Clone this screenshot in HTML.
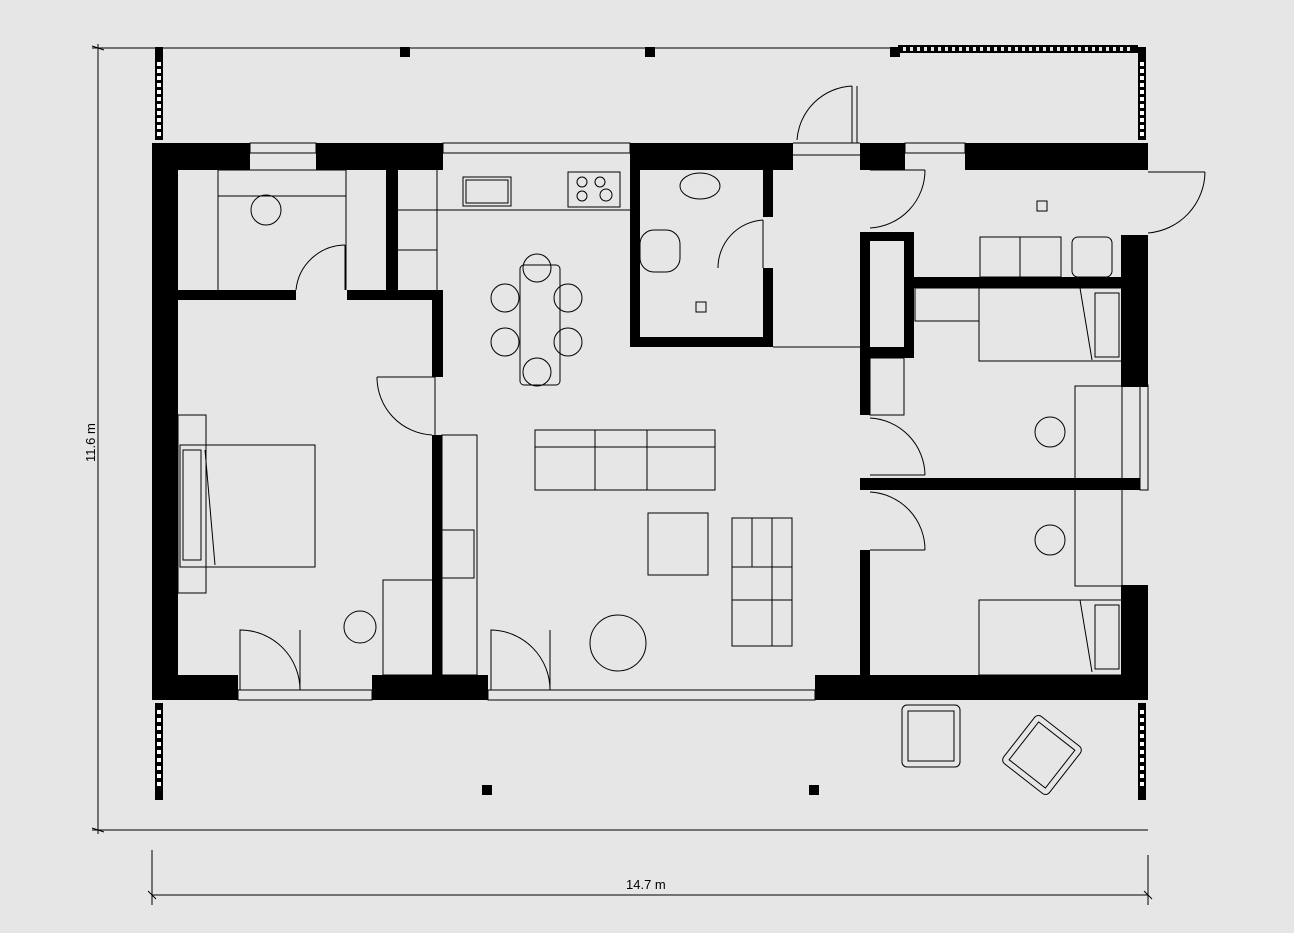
<!DOCTYPE html>
<html><head><meta charset="utf-8"><style>
html,body{margin:0;padding:0;background:#e6e6e6;}
svg{display:block;}
text{font-family:"Liberation Sans",sans-serif;font-size:13px;fill:#000;}
</style></head><body>
<svg width="1294" height="933" viewBox="0 0 1294 933" xmlns="http://www.w3.org/2000/svg">
<rect width="1294" height="933" fill="#e6e6e6"/>
<g stroke="#000" stroke-width="1" fill="none">
<!-- dimension lines -->
<line x1="92" y1="48" x2="1146" y2="48"/>
<line x1="98" y1="44" x2="98" y2="834"/>
<line x1="92" y1="830" x2="1148" y2="830"/>
<line x1="92" y1="46" x2="104" y2="50"/>
<line x1="92" y1="828" x2="104" y2="832"/>
<line x1="152" y1="895" x2="1148" y2="895"/>
<line x1="152" y1="850" x2="152" y2="905"/>
<line x1="1148" y1="855" x2="1148" y2="905"/>
<line x1="148" y1="891" x2="156" y2="899"/>
<line x1="1144" y1="891" x2="1152" y2="899"/>
<!-- window lines -->
<rect x="250" y="143" width="66" height="10"/>
<rect x="443" y="143" width="187" height="10"/>
<rect x="905" y="143" width="60" height="10"/>
<rect x="238" y="690" width="134" height="10"/>
<rect x="488" y="690" width="327" height="10"/>
<rect x="1140" y="385" width="8" height="105"/>
<line x1="793" y1="143" x2="860" y2="143"/><line x1="793" y1="155" x2="860" y2="155"/>
<!-- left rooms -->
<rect x="218" y="170" width="128" height="26"/>
<line x1="218" y1="196" x2="218" y2="290"/><line x1="346" y1="170" x2="346" y2="290"/>
<line x1="398" y1="210" x2="437" y2="210"/><line x1="398" y1="250" x2="437" y2="250"/><line x1="437" y1="170" x2="437" y2="290"/>
<line x1="398" y1="210" x2="630" y2="210"/>
<rect x="463" y="177" width="48" height="29"/><rect x="466" y="180" width="42" height="23"/>
<rect x="568" y="172" width="52" height="35"/>
<circle cx="582" cy="182" r="5"/><circle cx="600" cy="182" r="5"/><circle cx="582" cy="196" r="5"/><circle cx="606" cy="195" r="6"/>
<path d="M296 290 A50 50 0 0 1 345 245"/><line x1="345" y1="245" x2="345" y2="290"/>
<circle cx="266" cy="210" r="15"/>
<!-- master bedroom -->
<rect x="178" y="415" width="28" height="178"/>
<rect x="180" y="445" width="135" height="122"/>
<rect x="183" y="450" width="18" height="110"/>
<line x1="205" y1="450" x2="215" y2="565"/>
<rect x="383" y="580" width="50" height="95"/>
<circle cx="360" cy="627" r="16"/>
<path d="M240 690 L240 630 A60 60 0 0 1 300 690"/><line x1="300" y1="630" x2="300" y2="690"/>
<path d="M377 377 A58 58 0 0 0 432 435"/><line x1="377" y1="377" x2="435" y2="377"/>
<!-- kitchen/living -->
<rect x="442" y="435" width="35" height="240"/>
<rect x="442" y="530" width="32" height="48"/>
<line x1="435" y1="377" x2="435" y2="435"/>
<rect x="520" y="265" width="40" height="120" rx="4"/>
<circle cx="505" cy="298" r="14"/><circle cx="505" cy="342" r="14"/><circle cx="568" cy="298" r="14"/><circle cx="568" cy="342" r="14"/>
<circle cx="537" cy="268" r="14"/><circle cx="537" cy="372" r="14"/>
<rect x="535" y="430" width="180" height="60"/>
<line x1="595" y1="430" x2="595" y2="490"/><line x1="647" y1="430" x2="647" y2="490"/><line x1="535" y1="447" x2="715" y2="447"/>
<rect x="648" y="513" width="60" height="62"/>
<rect x="732" y="518" width="60" height="128"/>
<line x1="732" y1="567" x2="792" y2="567"/><line x1="732" y1="600" x2="792" y2="600"/><line x1="772" y1="518" x2="772" y2="646"/><line x1="752" y1="518" x2="752" y2="567"/>
<circle cx="618" cy="643" r="28"/>
<path d="M491 690 L491 630 A60 60 0 0 1 550 690"/><line x1="550" y1="630" x2="550" y2="690"/>
<path d="M797 140 A58 58 0 0 1 852 86"/><line x1="852" y1="86" x2="852" y2="143"/><line x1="857" y1="86" x2="857" y2="143"/>
<!-- bathroom -->
<ellipse cx="700" cy="186" rx="20" ry="13"/>
<rect x="640" y="230" width="40" height="42" rx="14"/>
<path d="M718 268 A48 48 0 0 1 763 220"/><line x1="763" y1="220" x2="763" y2="268"/>
<rect x="696" y="302" width="10" height="10"/>
<line x1="773" y1="347" x2="860" y2="347"/>
<!-- right rooms -->
<path d="M870 228 A58 58 0 0 0 925 170"/><line x1="870" y1="170" x2="925" y2="170"/>
<rect x="1037" y="201" width="10" height="10"/>
<rect x="980" y="237" width="81" height="40"/><line x1="1020" y1="237" x2="1020" y2="277"/>
<rect x="1072" y="237" width="40" height="40" rx="6"/>
<path d="M1148 233 A62 62 0 0 0 1205 172"/><line x1="1148" y1="172" x2="1205" y2="172"/>
<rect x="915" y="288" width="64" height="33"/>
<rect x="979" y="288" width="143" height="73"/>
<rect x="1095" y="293" width="24" height="64"/>
<line x1="1080" y1="288" x2="1092" y2="360"/>
<rect x="870" y="358" width="34" height="57"/>
<rect x="1075" y="386" width="47" height="200"/>
<circle cx="1050" cy="432" r="15"/><circle cx="1050" cy="540" r="15"/>
<path d="M870 418 A58 58 0 0 1 925 475"/><line x1="870" y1="475" x2="925" y2="475"/>
<path d="M870 492 A58 58 0 0 1 925 550"/><line x1="870" y1="550" x2="925" y2="550"/>
<rect x="979" y="600" width="143" height="75"/>
<rect x="1095" y="605" width="24" height="64"/>
<line x1="1080" y1="600" x2="1092" y2="672"/>
<!-- terrace chairs -->
<rect x="902" y="705" width="58" height="62" rx="5"/><rect x="908" y="711" width="46" height="50"/>
<g transform="rotate(38 1042 755)"><rect x="1013" y="725" width="58" height="60" rx="5"/><rect x="1019" y="731" width="46" height="48"/></g>
</g>
<g fill="#000">
<!-- outer walls -->
<rect x="152" y="143" width="98" height="27"/>
<rect x="316" y="143" width="127" height="27"/>
<rect x="630" y="143" width="163" height="27"/>
<rect x="860" y="143" width="45" height="27"/>
<rect x="965" y="143" width="183" height="27"/>
<rect x="152" y="143" width="26" height="557"/>
<rect x="1121" y="235" width="27" height="152"/>
<rect x="1121" y="478" width="19" height="12"/>
<rect x="1121" y="585" width="27" height="115"/>
<rect x="152" y="675" width="86" height="25"/>
<rect x="372" y="675" width="116" height="25"/>
<rect x="815" y="675" width="333" height="25"/>
<!-- interior walls -->
<rect x="178" y="290" width="118" height="10"/>
<rect x="347" y="290" width="96" height="10"/>
<rect x="386" y="170" width="12" height="120"/>
<rect x="432" y="290" width="11" height="87"/>
<rect x="432" y="435" width="10" height="240"/>
<rect x="630" y="170" width="10" height="177"/>
<rect x="630" y="337" width="143" height="10"/>
<rect x="763" y="170" width="10" height="47"/>
<rect x="763" y="268" width="10" height="79"/>
<rect x="860" y="232" width="54" height="9"/>
<rect x="904" y="232" width="10" height="126"/>
<rect x="860" y="347" width="54" height="11"/>
<rect x="860" y="232" width="10" height="126"/>
<rect x="914" y="277" width="208" height="11"/>
<rect x="860" y="358" width="10" height="57"/>
<rect x="860" y="478" width="262" height="12"/>
<rect x="860" y="550" width="10" height="125"/>
<!-- posts -->
<rect x="400" y="47" width="10" height="10"/>
<rect x="645" y="47" width="10" height="10"/>
<rect x="890" y="47" width="10" height="10"/>
<rect x="482" y="785" width="10" height="10"/>
<rect x="809" y="785" width="10" height="10"/>
<!-- dashed columns -->
<rect x="155" y="47" width="8" height="93"/>
<rect x="1138" y="47" width="8" height="93"/>
<rect x="155" y="703" width="8" height="97"/>
<rect x="1138" y="703" width="8" height="97"/>
<rect x="898" y="45" width="240" height="8"/>
</g>
<g fill="#fff">
<rect x="157" y="62" width="4" height="4"/><rect x="157" y="69" width="4" height="4"/><rect x="157" y="76" width="4" height="4"/><rect x="157" y="83" width="4" height="4"/><rect x="157" y="90" width="4" height="4"/><rect x="157" y="97" width="4" height="4"/><rect x="157" y="104" width="4" height="4"/><rect x="157" y="111" width="4" height="4"/><rect x="157" y="118" width="4" height="4"/><rect x="157" y="125" width="4" height="4"/><rect x="157" y="132" width="4" height="4"/>
<rect x="1140" y="62" width="4" height="4"/><rect x="1140" y="69" width="4" height="4"/><rect x="1140" y="76" width="4" height="4"/><rect x="1140" y="83" width="4" height="4"/><rect x="1140" y="90" width="4" height="4"/><rect x="1140" y="97" width="4" height="4"/><rect x="1140" y="104" width="4" height="4"/><rect x="1140" y="111" width="4" height="4"/><rect x="1140" y="118" width="4" height="4"/><rect x="1140" y="125" width="4" height="4"/><rect x="1140" y="132" width="4" height="4"/>
<rect x="157" y="710" width="4" height="4"/><rect x="157" y="718" width="4" height="4"/><rect x="157" y="726" width="4" height="4"/><rect x="157" y="734" width="4" height="4"/><rect x="157" y="742" width="4" height="4"/><rect x="157" y="750" width="4" height="4"/><rect x="157" y="758" width="4" height="4"/><rect x="157" y="766" width="4" height="4"/><rect x="157" y="774" width="4" height="4"/><rect x="157" y="782" width="4" height="4"/>
<rect x="1140" y="710" width="4" height="4"/><rect x="1140" y="718" width="4" height="4"/><rect x="1140" y="726" width="4" height="4"/><rect x="1140" y="734" width="4" height="4"/><rect x="1140" y="742" width="4" height="4"/><rect x="1140" y="750" width="4" height="4"/><rect x="1140" y="758" width="4" height="4"/><rect x="1140" y="766" width="4" height="4"/><rect x="1140" y="774" width="4" height="4"/><rect x="1140" y="782" width="4" height="4"/>
</g>
<g fill="#e6e6e6">
<rect x="903" y="47" width="3" height="4"/><rect x="910" y="47" width="3" height="4"/><rect x="917" y="47" width="3" height="4"/><rect x="924" y="47" width="3" height="4"/><rect x="931" y="47" width="3" height="4"/><rect x="938" y="47" width="3" height="4"/><rect x="945" y="47" width="3" height="4"/><rect x="952" y="47" width="3" height="4"/><rect x="959" y="47" width="3" height="4"/><rect x="966" y="47" width="3" height="4"/><rect x="973" y="47" width="3" height="4"/><rect x="980" y="47" width="3" height="4"/><rect x="987" y="47" width="3" height="4"/><rect x="994" y="47" width="3" height="4"/><rect x="1001" y="47" width="3" height="4"/><rect x="1008" y="47" width="3" height="4"/><rect x="1015" y="47" width="3" height="4"/><rect x="1022" y="47" width="3" height="4"/><rect x="1029" y="47" width="3" height="4"/><rect x="1036" y="47" width="3" height="4"/><rect x="1043" y="47" width="3" height="4"/><rect x="1050" y="47" width="3" height="4"/><rect x="1057" y="47" width="3" height="4"/><rect x="1064" y="47" width="3" height="4"/><rect x="1071" y="47" width="3" height="4"/><rect x="1078" y="47" width="3" height="4"/><rect x="1085" y="47" width="3" height="4"/><rect x="1092" y="47" width="3" height="4"/><rect x="1099" y="47" width="3" height="4"/><rect x="1106" y="47" width="3" height="4"/><rect x="1113" y="47" width="3" height="4"/><rect x="1120" y="47" width="3" height="4"/><rect x="1127" y="47" width="3" height="4"/>
</g>
<text x="626" y="889">14.7 m</text>
<text x="0" y="0" transform="translate(95,462) rotate(-90)">11.6 m</text>
</svg>
</body></html>
